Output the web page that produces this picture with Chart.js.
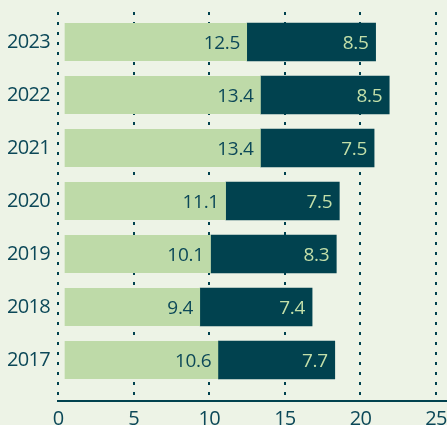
<!DOCTYPE html>
<html>
<head>
<meta charset="utf-8">
<script src="https://cdn.jsdelivr.net/npm/chart.js@4/dist/chart.umd.min.js"></script>
<style>
  html, body { margin: 0; padding: 0; background: #edf3e6; }
  canvas { display: block; }
</style>
</head>
<body>
<canvas id="c" width="447" height="425"></canvas>
<script>
const years = [2023, 2022, 2021, 2020, 2019, 2018, 2017];
const lightValues = [12.5, 13.4, 13.4, 11.1, 10.1, 9.4, 10.6];
const darkValues = [8.5, 8.5, 7.5, 7.5, 8.3, 7.4, 7.7];
const xTickValues = [0, 5, 10, 15, 20, 25];

const BG = '#edf3e6';
const LIGHT = '#bedaa8';
const DARK = '#01424f';
const TEXT = '#0c4858';
const FONT = 'Open Sans';

const spacing = {
  id: 'spacing',
  beforeInit(chart) { chart.ctx.letterSpacing = '-0.7px'; },
  beforeDraw(chart) { chart.ctx.letterSpacing = '-0.7px'; }
};

const valueLabels = {
  id: 'valueLabels',
  afterDatasetsDraw(chart) {
    const ctx = chart.ctx;
    ctx.save();
    ctx.letterSpacing = '-0.3px';
    ctx.font = '19px "' + FONT + '"';
    ctx.textAlign = 'right';
    ctx.textBaseline = 'middle';
    chart.data.datasets.forEach((ds, di) => {
      const meta = chart.getDatasetMeta(di);
      meta.data.forEach((el, i) => {
        const v = ds.data[i].x;
        ctx.fillStyle = ds.labelColor;
        ctx.fillText(v.toFixed(1), el.x - 7, el.y + 1.5);
      });
    });
    ctx.restore();
  }
};

function zeroPad(scale) {
  scale.paddingTop = 0;
  scale.paddingBottom = 0;
  scale.paddingLeft = 0;
  scale.paddingRight = 0;
}

new Chart(document.getElementById('c'), {
  type: 'bar',
  data: {
    datasets: [
      {
        data: years.map((y, i) => ({ x: lightValues[i], y: y })),
        backgroundColor: LIGHT,
        borderColor: 'rgba(0,0,0,0)',
        borderWidth: { left: 6, right: 0, top: 0, bottom: 0 },
        borderSkipped: false,
        barThickness: 38,
        labelColor: TEXT
      },
      {
        data: years.map((y, i) => ({ x: darkValues[i], y: y })),
        backgroundColor: DARK,
        borderWidth: 0,
        barThickness: 38,
        labelColor: '#c3dfa9'
      }
    ]
  },
  options: {
    responsive: false,
    animation: false,
    indexAxis: 'y',
    layout: { padding: { top: 12, left: 0, right: 0, bottom: 0 } },
    plugins: {
      legend: { display: false },
      tooltip: { enabled: false }
    },
    scales: {
      x: {
        type: 'linear',
        stacked: true,
        offset: false,
        min: 0,
        max: 25.72,
        afterFit(scale) { scale.height = 24; zeroPad(scale); },
        afterBuildTicks(scale) {
          scale.ticks = xTickValues.map(v => ({ value: v }));
        },
        ticks: {
          stepSize: 5,
          includeBounds: false,
          color: TEXT,
          font: { family: FONT, size: 20 },
          padding: 6,
          maxRotation: 0
        },
        grid: {
          color: DARK,
          lineWidth: 2,
          drawTicks: false
        },
        border: { display: true, color: DARK, width: 2, dash: [3, 7] }
      },
      y: {
        type: 'linear',
        stacked: true,
        offset: false,
        reverse: false,
        min: 2016.226,
        max: 2023.566,
        afterFit(scale) { scale.width = 58; zeroPad(scale); },
        afterBuildTicks(scale) {
          scale.ticks = years.map(v => ({ value: v }));
        },
        ticks: {
          stepSize: 1,
          includeBounds: false,
          color: TEXT,
          font: { family: FONT, size: 20 },
          padding: 8,
          callback: (v) => String(v)
        },
        grid: { display: false, drawTicks: false },
        border: { display: false }
      }
    }
  },
  plugins: [spacing, valueLabels]
});
</script>
</body>
</html>
